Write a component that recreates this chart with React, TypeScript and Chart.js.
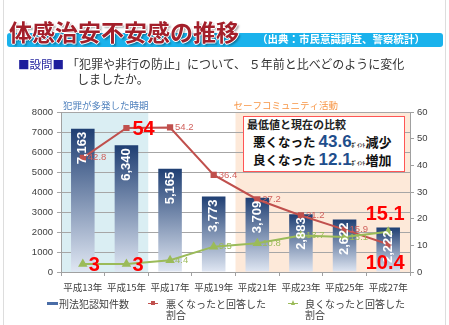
import React, { useEffect, useRef } from "react";
import { Chart, registerables } from "chart.js";

Chart.register(...registerables);

const categories = ["平成13年", "平成15年", "平成17年", "平成19年", "平成21年", "平成23年", "平成25年", "平成27年"];
const crimeCounts = [7163, 6340, 5165, 3773, 3709, 2883, 2622, 2222];
const worseRates = [42.8, 54, 54.2, 36.4, 27.2, 21.2, 15.9, 10.4];
const betterRates = [3, 3, 4.4, 9.5, 10.8, 13.7, 13.1, 15.1];
const countAxisMax = 8000;
const countAxisStep = 1000;
const rateAxisMax = 60;
const rateAxisStep = 10;
const worseHighlights = [1, 7];
const betterHighlights = [0, 1, 7];
const crimeWaveSpan = [0, 1];
const safeCommunitySpan = [4, 7];
const periodLabels = ["犯罪が多発した時期", "セーフコミュニティ活動"];
const seriesLabels = ["刑法犯認知件数", "悪くなったと回答した", "良くなったと回答した"];
const summaryValues = [43.6, 12.1];

const CJK = '"Noto Sans CJK JP", "Noto Sans", sans-serif';
const LATIN = '"Liberation Sans", Arial, sans-serif';
const RED = "#C0504D";
const GREEN = "#9BBB59";

const decorPlugin = {
  id: "decor",
  beforeDraw(chart: any) {
    const { ctx, chartArea, scales } = chart;
    const x = scales.x;
    const half = (x.getPixelForValue(1) - x.getPixelForValue(0)) / 2;
    const spans = [
      { span: crimeWaveSpan, fill: "#DAEEF3", color: "#4F81BD", label: periodLabels[0], dx: 2 },
      { span: safeCommunitySpan, fill: "#FDE9D9", color: "#F79646", label: periodLabels[1], dx: -2 },
    ];
    ctx.save();
    for (const s of spans) {
      const l = x.getPixelForValue(s.span[0]) - half;
      const r = x.getPixelForValue(s.span[1]) + half;
      ctx.fillStyle = s.fill;
      ctx.fillRect(l, chartArea.top, r - l, chartArea.bottom - chartArea.top);
      ctx.fillStyle = s.color;
      ctx.font = `9.5px ${CJK}`;
      ctx.textBaseline = "middle";
      ctx.textAlign = "left";
      ctx.fillText(s.label, l + s.dx, chartArea.top - 7);
    }
    ctx.restore();
  },
  afterDatasetsDraw(chart: any) {
    const { ctx } = chart;
    ctx.save();
    const barMeta = chart.getDatasetMeta(0);
    ctx.fillStyle = "#ffffff";
    ctx.font = `bold 13px ${LATIN}`;
    barMeta.data.forEach((el: any, i: number) => {
      ctx.save();
      ctx.translate(el.x, el.y + 3);
      ctx.rotate(-Math.PI / 2);
      ctx.textAlign = "right";
      ctx.textBaseline = "middle";
      ctx.fillText(crimeCounts[i].toLocaleString("en-US"), 0, 0);
      ctx.restore();
    });

    const drawLine = (dsIndex: number, values: number[], highlights: number[], color: string, above: boolean) => {
      const meta = chart.getDatasetMeta(dsIndex);
      meta.data.forEach((pt: any, i: number) => {
        const text = String(values[i]);
        ctx.textBaseline = "middle";
        if (highlights.includes(i)) {
          ctx.font = `bold 20px ${LATIN}`;
          ctx.fillStyle = "#FF0000";
          if (i === values.length - 1) {
            ctx.textAlign = "center";
            ctx.fillText(text, pt.x - 3, pt.y + (above ? -17 : 19));
          } else {
            ctx.textAlign = "left";
            ctx.fillText(text, pt.x + 6, pt.y + 1);
          }
        } else {
          ctx.font = `9.5px ${LATIN}`;
          ctx.fillStyle = color;
          ctx.textAlign = "left";
          ctx.fillText(text, pt.x + 5, pt.y);
        }
      });
    };
    drawLine(1, worseRates, worseHighlights, "#D0605C", false);
    drawLine(2, betterRates, betterHighlights, GREEN, true);
    ctx.restore();
  },
};

export default function App() {
  const ref = useRef<HTMLCanvasElement | null>(null);

  useEffect(() => {
    if (!ref.current) return;
    const chart = new Chart(ref.current, {
      type: "bar",
      data: {
        labels: categories,
        datasets: [
          {
            type: "bar",
            label: seriesLabels[0],
            data: crimeCounts,
            yAxisID: "y",
            order: 3,
            barPercentage: 0.54,
            categoryPercentage: 1,
            borderWidth: 0,
            backgroundColor: (c: any) => {
              const ch = c.chart;
              const y = ch.scales && ch.scales.y;
              if (!y || c.type !== "data") return "#4F6FA0";
              const top = y.getPixelForValue(c.raw);
              const bottom = y.getPixelForValue(0);
              if (!isFinite(top) || !isFinite(bottom) || top === bottom) return "#4F6FA0";
              const g = ch.ctx.createLinearGradient(0, top, 0, bottom);
              g.addColorStop(0, "#1F3F73");
              g.addColorStop(1, "#E0E7F3");
              return g;
            },
          } as any,
          {
            type: "line",
            label: seriesLabels[1],
            data: worseRates,
            yAxisID: "y1",
            order: 2,
            borderColor: RED,
            backgroundColor: RED,
            borderWidth: 2,
            pointStyle: "rect",
            pointRadius: 3,
            pointBackgroundColor: RED,
            pointBorderColor: RED,
            tension: 0,
          } as any,
          {
            type: "line",
            label: seriesLabels[2],
            data: betterRates,
            yAxisID: "y1",
            order: 1,
            borderColor: GREEN,
            backgroundColor: GREEN,
            borderWidth: 2,
            pointStyle: "triangle",
            pointRadius: 3.5,
            pointBackgroundColor: GREEN,
            pointBorderColor: GREEN,
            tension: 0,
          } as any,
        ],
      },
      options: {
        animation: false,
        responsive: false,
        maintainAspectRatio: false,
        layout: { padding: { top: 112, left: 0, right: 0, bottom: 0 } },
        plugins: { legend: { display: false }, tooltip: { enabled: false } },
        scales: {
          x: {
            afterFit: (s: any) => { s.height = 53; },
            grid: { display: true, drawOnChartArea: false, drawTicks: true, tickLength: 4, color: "#A0A0A0" },
            border: { color: "#A0A0A0" },
            ticks: { color: "#404040", font: { family: CJK, size: 9.5 }, padding: 6, maxRotation: 0, autoSkip: false },
          },
          y: {
            position: "left",
            min: 0,
            max: countAxisMax,
            afterFit: (s: any) => { s.width = 61; },
            grid: { color: "#A6A6A6", tickLength: 4 },
            border: { color: "#A0A0A0" },
            ticks: { stepSize: countAxisStep, color: "#404040", font: { family: LATIN, size: 9.5 }, padding: 4, callback: (v: any) => String(v) },
          },
          y1: {
            position: "right",
            min: 0,
            max: rateAxisMax,
            afterFit: (s: any) => { s.width = 39; },
            grid: { drawOnChartArea: false, tickLength: 4, color: "#A0A0A0" },
            border: { color: "#A0A0A0" },
            ticks: { stepSize: rateAxisStep, color: "#404040", font: { family: LATIN, size: 9.5 }, padding: 3, callback: (v: any) => String(v) },
          },
        },
      } as any,
      plugins: [decorPlugin],
    });
    return () => chart.destroy();
  }, []);

  const abs = (s: React.CSSProperties): React.CSSProperties => ({ position: "absolute", whiteSpace: "nowrap", ...s });

  return (
    <div style={{ position: "fixed", left: 0, top: 0, width: 449, height: 325, background: "#fff", overflow: "hidden", fontFamily: CJK }}>
      <div style={abs({ left: 3, top: 0, width: 443, height: 325, borderLeft: "1px solid #DDDDDD", borderRight: "1px solid #DDDDDD", boxSizing: "border-box" })} />
      <canvas ref={ref} width={449} height={325} style={{ position: "absolute", left: 0, top: 0, width: 449, height: 325 }} />

      <div style={abs({ left: 7, top: 33, width: 436, height: 14, background: "#1AB2EC", borderRadius: 3 })} />
      <div style={abs({ left: 257, top: 34, fontSize: 10.5, lineHeight: "10.5px", fontWeight: 700, color: "#fff" })}>（出典：市民意識調査、警察統計）</div>
      <div style={abs({ left: 9, top: 20, fontSize: 23, lineHeight: "23px", fontWeight: 700, color: "#A31F2A", textShadow: "1px 0 0 #fff, -1px 0 0 #fff, 0 1px 0 #fff, 0 -1px 0 #fff, 2px 2px 2px rgba(0,0,0,0.35)" })}>体感治安不安感の推移</div>

      <div style={abs({ left: 18, top: 58.5, fontSize: 11.5, lineHeight: "11.5px", color: "#1E1E9C" })}>■設問■</div>
      <div style={abs({ left: 67, top: 58.3, fontSize: 12, lineHeight: "12px", color: "#333" })}>「犯罪や非行の防止」について、 ５年前と比べどのように変化</div>
      <div style={abs({ left: 77, top: 73.3, fontSize: 12, lineHeight: "12px", color: "#333" })}>しましたか。</div>

      <div style={abs({ left: 243, top: 116, width: 162, height: 56, boxSizing: "border-box", border: "1.5px solid #F55", background: "#fff" })} />
      <div style={abs({ left: 247, top: 119, fontSize: 11, lineHeight: "11px", fontWeight: 700, color: "#222" })}>最低値と現在の比較</div>
      <div style={abs({ left: 253, top: 132, height: 20, display: "flex", alignItems: "baseline", color: "#111", fontWeight: 700 })}>
        <span style={{ fontSize: 12.5 }}>悪くなった</span>
        <span style={{ fontSize: 17, fontFamily: LATIN, color: "#1F4E8C", marginLeft: 3 }}>{summaryValues[0]}</span>
        <span style={{ fontSize: 5.5 }}>ﾎﾟｲﾝﾄ</span>
        <span style={{ fontSize: 13 }}>減少</span>
      </div>
      <div style={abs({ left: 253, top: 150, height: 20, display: "flex", alignItems: "baseline", color: "#111", fontWeight: 700 })}>
        <span style={{ fontSize: 12.5 }}>良くなった</span>
        <span style={{ fontSize: 17, fontFamily: LATIN, color: "#1F4E8C", marginLeft: 3 }}>{summaryValues[1]}</span>
        <span style={{ fontSize: 5.5 }}>ﾎﾟｲﾝﾄ</span>
        <span style={{ fontSize: 13 }}>増加</span>
      </div>

      <div style={abs({ left: 47, top: 302, width: 11, height: 2.5, background: "#4A6DA7" })} />
      <div style={abs({ left: 59, top: 297.5, fontSize: 10, lineHeight: "11px", color: "#404040" })}>{seriesLabels[0]}</div>

      <div style={abs({ left: 148, top: 302.5, width: 10, height: 1.5, background: RED })} />
      <div style={abs({ left: 151, top: 301.2, width: 4, height: 4, background: RED })} />
      <div style={abs({ left: 166, top: 297.5, fontSize: 10, lineHeight: "11px", color: "#404040" })}>{seriesLabels[1]}<br />割合</div>

      <div style={abs({ left: 288, top: 302.5, width: 10, height: 1.5, background: GREEN })} />
      <div style={abs({ left: 290.5, top: 300, width: 0, height: 0, borderLeft: "2.5px solid transparent", borderRight: "2.5px solid transparent", borderBottom: "5px solid " + GREEN })} />
      <div style={abs({ left: 305, top: 297.5, fontSize: 10, lineHeight: "11px", color: "#404040" })}>{seriesLabels[2]}<br />割合</div>
    </div>
  );
}
